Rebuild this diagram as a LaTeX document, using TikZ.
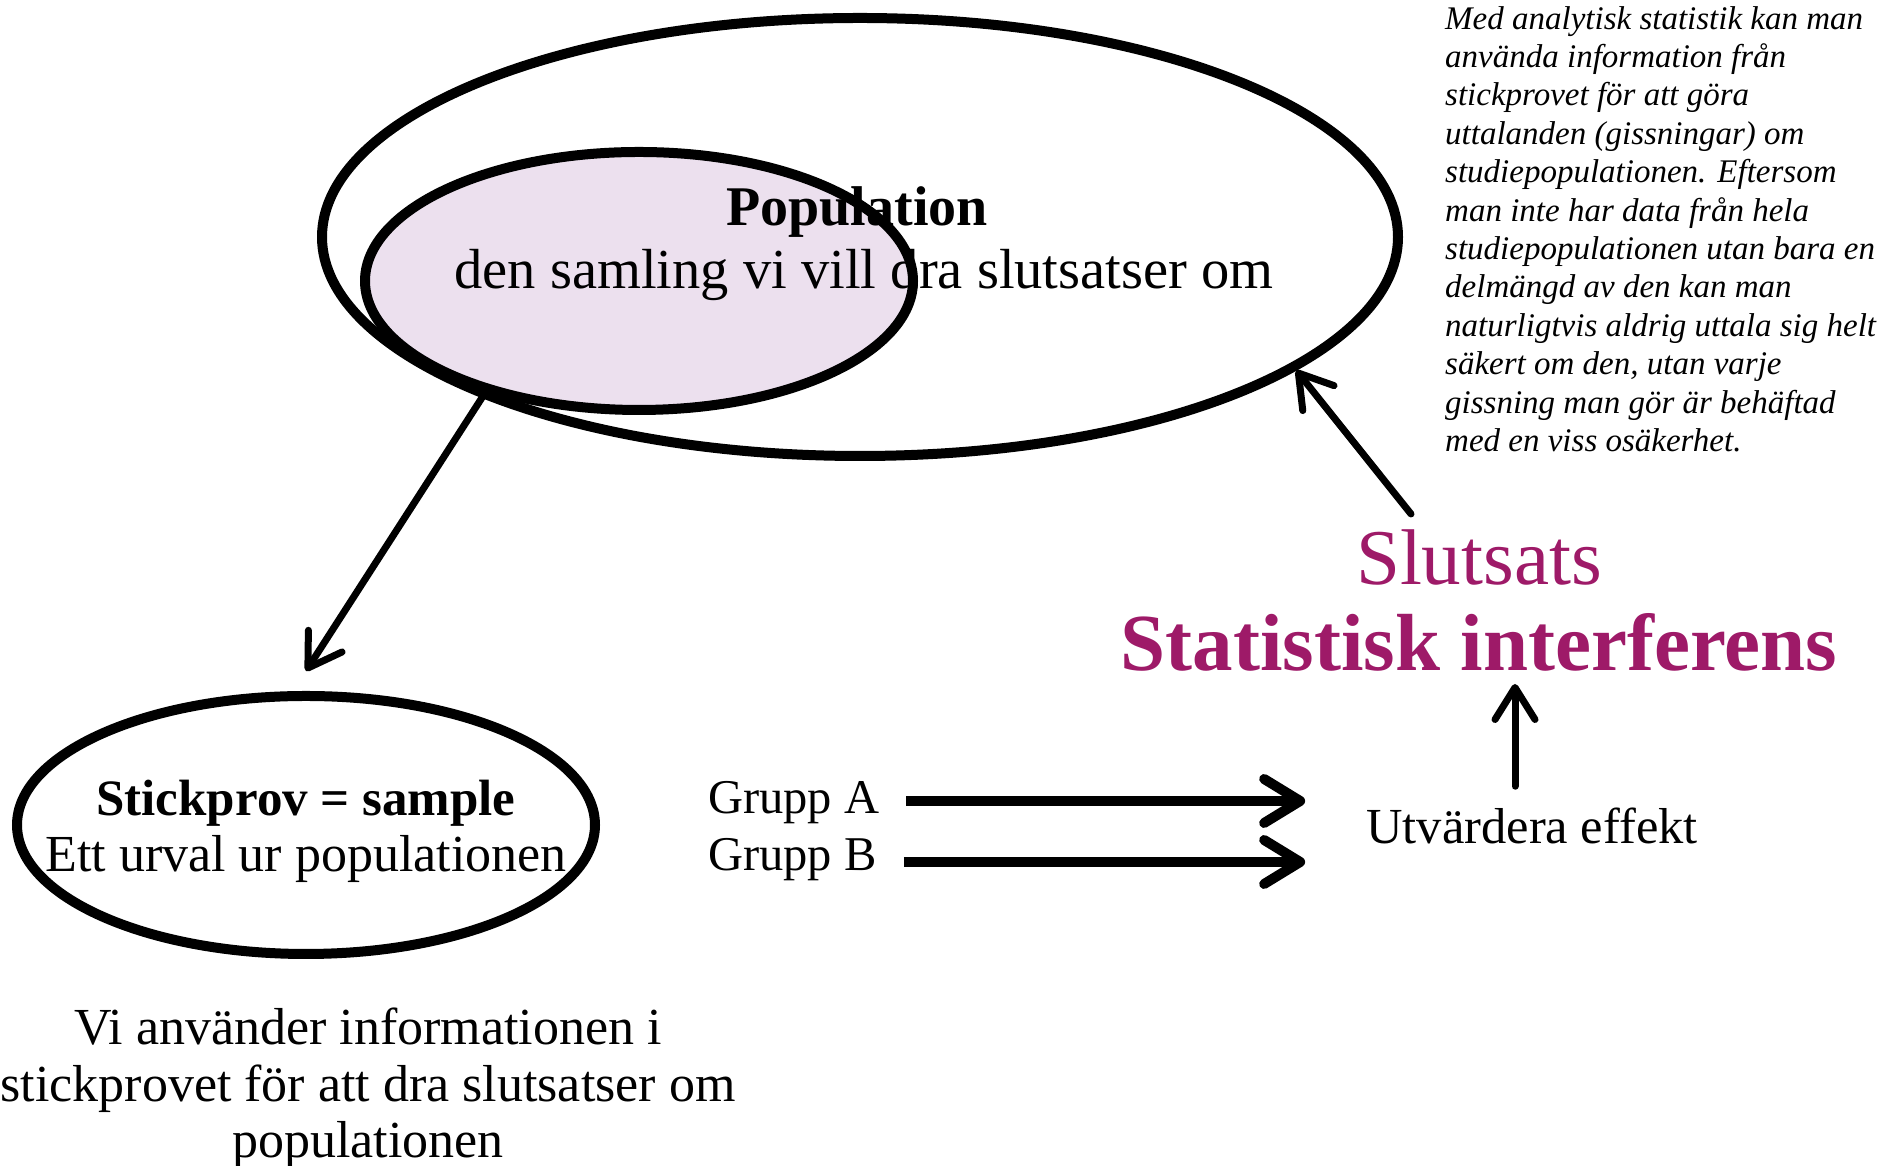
\documentclass[tikz,border=0pt]{standalone}
\usepackage{fontspec}
\setmainfont{Liberation Serif}
\usetikzlibrary{shapes.geometric,arrows.meta,calc}
\definecolor{plum}{RGB}{158,26,104}
\definecolor{lavender}{RGB}{236,224,238}
\begin{document}
\begin{tikzpicture}[x=1pt,y=1pt,
  ring/.style={ellipse, draw, line width=10pt, inner sep=0pt},
  txt/.style={inner sep=0pt, anchor=base, font=\fontsize{50}{57}\selectfont},
  barb/.style={-{Straight Barb[length=32pt,width=40pt,line cap=round,line join=round]},
               line width=7pt, line cap=round},
  fatbarb/.style={-{Straight Barb[length=36pt,width=44pt,line cap=round,line join=round]},
               line width=10pt},
]
\useasboundingbox (0,0) rectangle (1904,1166);

% population and the sampled part of it
\node[ring, fill=white, minimum width=1076pt, minimum height=438pt] (population) at (860,929) {};
\node[ring, fill=lavender, minimum width=548pt, minimum height=258pt] (subset) at (639,885) {};
\node[txt, font=\bfseries\fontsize{56}{63}\selectfont] (poptitle) at (857,940) {Population};
\node[txt, font=\fontsize{56.5}{63}\selectfont] (popdesc) at (864,877) {den samling vi vill dra slutsatser om};

% the sample
\node[ring, minimum width=578pt, minimum height=258pt] (sample) at (306,341) {};
\node[txt, font=\bfseries\fontsize{51}{57}\selectfont] (sptitle) at (306,350) {Stickprov = sample};
\node[txt, font=\fontsize{52}{57}\selectfont] (spdesc) at (306,294) {Ett urval ur populationen};

\node[inner sep=0pt, align=center, anchor=north, font=\fontsize{52}{56.5}\selectfont]
  (note) at (368,158) {Vi använder informationen i\\stickprovet för att dra slutsatser om\\populationen};

% groups and evaluation
\node[txt, anchor=base west, font=\fontsize{48.5}{57}\selectfont] (ga) at (708,352) {Grupp A};
\node[txt, anchor=base west, font=\fontsize{48.5}{57}\selectfont] (gb) at (708,295) {Grupp B};
\node[txt, font=\fontsize{50.5}{57}\selectfont] (ue) at (1532,322) {Utvärdera effekt};

\node[txt, text=plum, font=\bfseries\fontsize{81}{90}\selectfont] (stat) at (1479,495) {Statistisk interferens};
\node[txt, text=plum, font=\fontsize{79}{90}\selectfont] (slut) at (1479,581) {Slutsats};

\node[inner sep=0pt, align=left, anchor=north west, font=\itshape\fontsize{33}{38.4}\selectfont]
  (remark) at (1445,1160) {Med analytisk statistik kan man\\använda information från\\stickprovet för att göra\\uttalanden (gissningar) om\\studiepopulationen. Eftersom\\man inte har data från hela\\studiepopulationen utan bara en\\delmängd av den kan man\\naturligtvis aldrig uttala sig helt\\säkert om den, utan varje\\gissning man gör är behäftad\\med en viss osäkerhet.};

% connectors
\draw[barb] (subset.216) -- ([yshift=20pt]sample.north);
\draw[fatbarb] ($(ga.base east)+(27,13)$) -- ($(ga.base east -| ue.west)+(-61,13)$);
\draw[fatbarb] ($(gb.base east)+(27,9)$) -- ($(gb.base east -| ue.west)+(-61,9)$);
\draw[barb] ($(ue.north)+(-17,22)$) -- ($(stat.base -| ue.north)+(-17,-13)$);
\draw[barb] ($(slut.north)+(-68,16)$) -- (population.-17);
\end{tikzpicture}
\end{document}
